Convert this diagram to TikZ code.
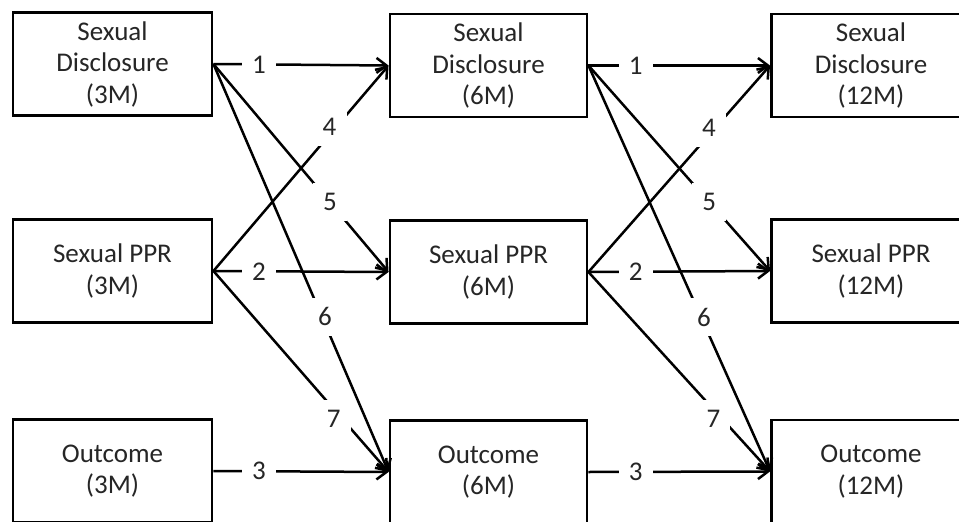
\documentclass[tikz,border=0pt]{standalone}
\usepackage{fontspec}
\setmainfont{Carlito}
\usetikzlibrary{arrows.meta}
\begin{document}
\begin{tikzpicture}[x=1pt,y=-1pt,
  box/.style={draw, line width=2.9pt, minimum width=199pt, minimum height=103pt, inner sep=0pt, align=center, text=black!85, font=\fontsize{27}{31.5}\selectfont},
  conn/.style={line width=2.5pt, -{Straight Barb[length=10pt,width=15pt,line width=2.5pt]}},
  lab/.style={fill=white, inner sep=0pt, minimum width=34pt, minimum height=38pt, text=black!85, font=\fontsize{27}{31.5}\selectfont}]
\clip (0,0) rectangle (959,522);
\fill[white] (0,0) rectangle (959,522);
% left column
\node[box] (sd3) at (112.5,64) {Sexual\\Disclosure\\(3M)};
\node[box] (pp3) at (112.5,271) {Sexual PPR\\(3M)};
\node[box] (oc3) at (112.5,471) {Outcome\\(3M)};
% middle column
\node[box, minimum width=197pt] (sd6) at (488.5,65.5) {Sexual\\Disclosure\\(6M)};
\node[box, minimum width=197pt] (pp6) at (488.5,272) {Sexual PPR\\(6M)};
\node[box, minimum width=197pt] (oc6) at (488.5,472) {Outcome\\(6M)};
% right column
\node[box] (sd12) at (871,65.5) {Sexual\\Disclosure\\(12M)};
\node[box] (pp12) at (871,271) {Sexual PPR\\(12M)};
\node[box] (oc12) at (871,471.5) {Outcome\\(12M)};
% stage 1
\draw[conn] (sd3.east) -- node[lab,pos=.26]{1} (sd6.west);
\draw[conn] (pp3.east) -- node[lab,pos=.26]{2} (pp6.west);
\draw[conn] (oc3.east) -- node[lab,pos=.26]{3} (oc6.west);
\draw[conn] (pp3.east) -- node[lab,pos=.68,xshift=-3pt,yshift=4pt]{4} (sd6.west);
\draw[conn] (sd3.east) -- node[lab,pos=.665]{5} (pp6.west);
\draw[conn] (sd3.east) -- node[lab,pos=.62,xshift=3pt]{6} (oc6.west);
\draw[conn] (pp3.east) -- node[lab,pos=.71,xshift=-4pt,yshift=-5pt]{7} (oc6.west);
% stage 2
\draw[conn] (sd6.east) -- node[lab,pos=.26]{1} (sd12.west);
\draw[conn] (pp6.east) -- node[lab,pos=.26]{2} (pp12.west);
\draw[conn] (oc6.east) -- node[lab,pos=.26]{3} (oc12.west);
\draw[conn] (pp6.east) -- node[lab,pos=.68,xshift=-3pt,yshift=4pt]{4} (sd12.west);
\draw[conn] (sd6.east) -- node[lab,pos=.665]{5} (pp12.west);
\draw[conn] (sd6.east) -- node[lab,pos=.62,xshift=3pt]{6} (oc12.west);
\draw[conn] (pp6.east) -- node[lab,pos=.71,xshift=-4pt,yshift=-5pt]{7} (oc12.west);
\end{tikzpicture}
\end{document}
